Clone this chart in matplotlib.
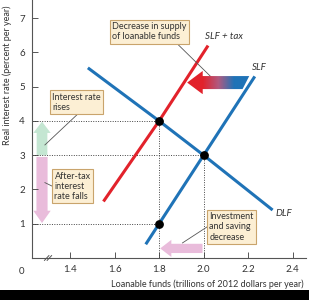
import matplotlib.pyplot as plt
import numpy as np
from matplotlib.patches import Polygon, FancyArrow, Rectangle
from matplotlib.colors import LinearSegmentedColormap

# Curves (loanable funds, real interest rate)
dlf_x = [1.48, 1.8, 2.0, 2.31]
dlf_y = [5.55, 4.0, 3.0, 1.40]
slf_x = [1.74, 1.8, 2.0, 2.23]
slf_y = [0.40, 1.0, 3.0, 5.30]
slf_tax_x = [1.55, 1.8, 2.02]
slf_tax_y = [1.65, 4.0, 6.20]

# Equilibrium points
eq_x = [1.8, 2.0, 1.8]
eq_y = [4.0, 3.0, 1.0]

x_ticks = [1.4, 1.6, 1.8, 2.0, 2.2, 2.4]
y_ticks = [1, 2, 3, 4, 5, 6, 7]

blue = '#1f73b7'
red = '#e2222b'
box_fc = '#fcefd4'
box_ec = '#c9a46c'
font = 'Lato'

plt.rcParams['font.family'] = [font, 'DejaVu Sans']

fig = plt.figure(figsize=(3.09, 3.0), dpi=100)
ax = fig.add_axes([32 / 309, 42 / 300, 274 / 309, 258 / 300])
ax.set_xlim(1.229, 2.460)
ax.set_ylim(0, 7.53)

for s in ['top', 'right']:
    ax.spines[s].set_visible(False)
for s in ['left', 'bottom']:
    ax.spines[s].set_color('#555555')
    ax.spines[s].set_linewidth(0.8)

ax.set_xticks(x_ticks)
ax.set_xticklabels([f"{t:.1f}" for t in x_ticks])
ax.set_yticks(y_ticks)
ax.tick_params(direction='in', length=4, width=0.7, color='#555555',
               labelsize=7, labelcolor='#333333', pad=5)
ax.text(-0.03, -0.035, '0', transform=ax.transAxes, fontsize=7,
        color='#333333', ha='right', va='top')

# axis break
for dx in [0.0, 0.012]:
    ax.plot([1.285 + dx, 1.305 + dx], [-0.07, 0.07], color='#555555',
            lw=0.7, clip_on=False)

ax.set_xlabel('Loanable funds (trillions of 2012 dollars per year)',
              fontsize=6.5, color='#333333')
ax.xaxis.set_label_coords(0.64, -0.085)
ax.set_ylabel('Real interest rate (percent per year)', fontsize=6.5,
              color='#333333')
ax.yaxis.set_label_coords(-0.073, 0.71)

# dotted guide lines
dot = dict(color='#444444', ls=(0, (1, 1.5)), lw=0.7)
ax.plot([1.229, 1.8], [4, 4], **dot)
ax.plot([1.229, 2.0], [3, 3], **dot)
ax.plot([1.229, 1.8], [1, 1], **dot)
ax.plot([1.8, 1.8], [0, 4], **dot)
ax.plot([2.0, 2.0], [0, 3], **dot)

# curves
ax.plot(dlf_x, dlf_y, color=blue, lw=2.2, solid_capstyle='butt')
ax.plot(slf_x, slf_y, color=blue, lw=2.2, solid_capstyle='butt')
ax.plot(slf_tax_x, slf_tax_y, color=red, lw=2.2, solid_capstyle='butt')
ax.scatter(eq_x, eq_y, s=28, color='black', zorder=5)

ax.text(2.007, 6.46, 'SLF + tax', fontsize=7, style='italic',
        color='#333333', va='center')
ax.text(2.218, 5.56, 'SLF', fontsize=7, style='italic',
        color='#333333', va='center')
ax.text(2.321, 1.30, 'DLF', fontsize=7, style='italic',
        color='#333333', va='center')

# gradient arrow (supply shift)
tip, tail, yc = 1.926, 2.205, 5.12
bh, hh, hl = 0.19, 0.34, 0.07
verts = [(tip, yc), (tip + hl, yc + hh), (tip + hl, yc + bh),
         (tail, yc + bh), (tail - 0.03, yc - bh), (tip + hl, yc - bh),
         (tip + hl, yc - hh)]
poly = Polygon(verts, closed=True, fc='none', ec='none')
ax.add_patch(poly)
grad = np.linspace(0, 1, 256).reshape(1, -1)
cmap = LinearSegmentedColormap.from_list('rb', [red, red, '#b05a80', blue, blue])
im = ax.imshow(grad, extent=[tip, tail, yc - hh, yc + hh], aspect='auto',
               cmap=cmap, zorder=4)
im.set_clip_path(poly)

# pale arrows
green = '#c4e6d2'
pink = '#e9bcdb'
ax.add_patch(FancyArrow(1.274, 3.0, 0, 0.98, width=0.048, head_width=0.078,
                        head_length=0.33, length_includes_head=True,
                        fc=green, ec='none'))
ax.add_patch(FancyArrow(1.274, 2.95, 0, -1.93, width=0.05, head_width=0.078,
                        head_length=0.36, length_includes_head=True,
                        fc=pink, ec='none'))
ax.add_patch(FancyArrow(1.995, 0.28, -0.19, 0, width=0.27, head_width=0.5,
                        head_length=0.05, length_includes_head=True,
                        fc=pink, ec='none'))

# annotation boxes
bbox = dict(boxstyle='square,pad=0.25', fc=box_fc, ec=box_ec, lw=0.8)
lead = dict(color='#555555', lw=0.6)
ax.plot([1.885, 2.047], [6.23, 5.20], **lead)
ax.plot([1.431, 1.287], [4.18, 3.30], **lead)
ax.plot([1.287, 1.325], [2.20, 2.08], **lead)
ax.plot([2.016, 1.905], [0.91, 0.44], **lead)

ax.text(1.589, 6.88, 'Decrease in supply\nof loanable funds', fontsize=6.5,
        color='#333333', va='top', ha='left', linespacing=1.15, bbox=bbox,
        zorder=6)
ax.text(1.319, 4.83, 'Interest rate\nrises', fontsize=6.5,
        color='#333333', va='top', ha='left', linespacing=1.15, bbox=bbox,
        zorder=6)
ax.text(1.330, 2.52, 'After-tax\ninterest\nrate falls', fontsize=6.5,
        color='#333333', va='top', ha='left', linespacing=1.15, bbox=bbox,
        zorder=6)
ax.text(2.026, 1.33, 'Investment\nand saving\ndecrease', fontsize=6.5,
        color='#333333', va='top', ha='left', linespacing=1.15, bbox=bbox,
        zorder=6)

# black band at bottom
fig.patches.append(Rectangle((0, 0), 1, 10 / 300, transform=fig.transFigure,
                             fc='black', ec='none'))

fig.savefig('out.png', dpi=100)
